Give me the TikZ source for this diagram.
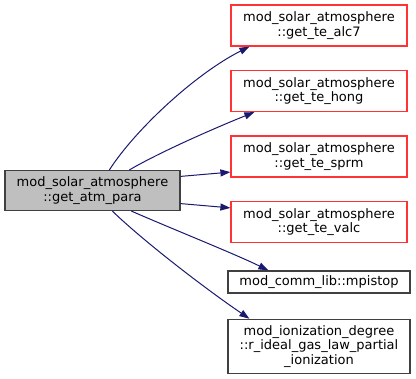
\documentclass[tikz,border=0pt]{standalone}
\usepackage{fontspec}
\setmainfont{DejaVu Sans}
\usetikzlibrary{arrows.meta,calc}
\definecolor{edgeblue}{HTML}{191970}
\definecolor{boxgray}{HTML}{404040}
\definecolor{mainfill}{HTML}{BFBFBF}
\definecolor{redline}{HTML}{FF3333}
\tikzset{
  box/.style={draw=boxgray, line width=1.2pt, align=center, inner sep=0pt,
    minimum width=182pt, font=\fontsize{13}{14.6}\selectfont},
  redbox/.style={draw=redline, line width=1.2pt, align=center, inner sep=0pt,
    minimum width=176pt, minimum height=41pt, font=\fontsize{13}{14.6}\selectfont},
  mainbox/.style={box, fill=mainfill, minimum width=175pt, minimum height=40pt},
  edge/.style={draw=edgeblue, line width=1pt, -{Triangle[length=10pt,width=7pt]}, fill=none}
}
\begin{document}
\begin{tikzpicture}[x=1pt,y=-1pt]
\useasboundingbox (0,0) rectangle (416,379);
\node[mainbox] (main) at (92.5,190.5) {mod\_solar\_atmosphere\\::get\_atm\_para};
\node[redbox] (alc7) at (319,25.5) {mod\_solar\_atmosphere\\::get\_te\_alc7};
\node[redbox] (hong) at (319,91) {mod\_solar\_atmosphere\\::get\_te\_hong};
\node[redbox] (sprm) at (319,156.5) {mod\_solar\_atmosphere\\::get\_te\_sprm};
\node[redbox] (valc) at (319,222) {mod\_solar\_atmosphere\\::get\_te\_valc};
\node[box, minimum height=22pt] (mpi) at (319,282) {mod\_comm\_lib::mpistop};
\node[box, minimum height=54pt] (ideal) at (319,346.3) {mod\_ionization\_degree\\::r\_ideal\_gas\_law\_partial\\\_ionization};

\draw[edge] ($(main.north west)+(105,0)$) .. controls (135,130) and (195,74) .. ($(alc7.south west)+(19,0)$);
\draw[edge] ($(main.north west)+(125,0)$) .. controls (160,152) and (215,128) .. ($(hong.south west)+(24,0)$);
\draw[edge] ($(main.north east)+(0,6.5)$) -- ($(sprm.south west)+(0,-5.5)$);
\draw[edge] ($(main.south east)+(0,-7.5)$) -- ($(valc.north west)+(0,7)$);
\draw[edge] ($(main.south west)+(127,0)$) .. controls (170,228) and (235,254) .. ($(mpi.north west)+(41,0)$);
\draw[edge] ($(main.south west)+(108,0)$) .. controls (140,238) and (200,285) .. ($(ideal.north west)+(22,0)$);
\end{tikzpicture}
\end{document}
